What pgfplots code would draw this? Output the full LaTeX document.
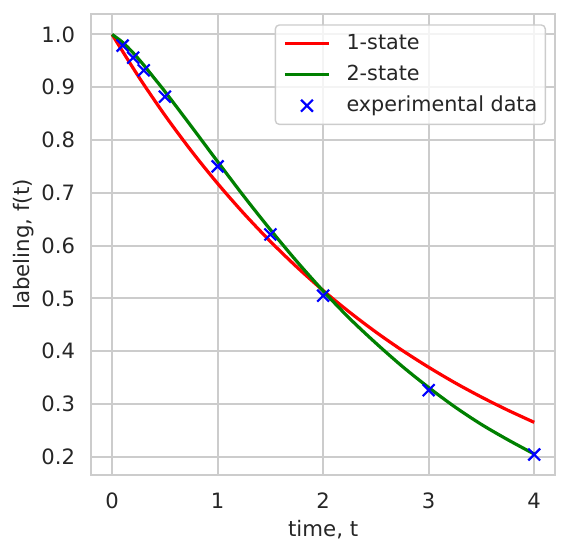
\documentclass[border=0pt]{standalone}
\usepackage{fontspec}
\setmainfont{DejaVu Sans}
\usepackage{pgfplots}
\pgfplotsset{compat=1.18}
\definecolor{txt}{RGB}{38,38,38}
\definecolor{gridc}{RGB}{204,204,204}
\definecolor{mplgreen}{RGB}{0,128,0}
\begin{document}
\begin{tikzpicture}
\begin{axis}[
  scale only axis, width=232.15bp, height=230.5bp,
  xmin=-0.2, xmax=4.2, ymin=0.1652, ymax=1.0388,
  xtick={0,1,2,3,4},
  ytick={0.2,0.3,0.4,0.5,0.6,0.7,0.8,0.9,1.0},
  yticklabel style={/pgf/number format/fixed, /pgf/number format/fixed zerofill, /pgf/number format/precision=1},
  /pgf/number format/assume math mode=true,
  tick label style={font=\fontsize{10.6}{12}\selectfont, text=txt, inner sep=0pt},
  xticklabel style={anchor=north, yshift=-8.8bp},
  yticklabel style={anchor=east, xshift=-7.8bp},
  major tick length=0pt,
  grid=major, major grid style={gridc, line width=1bp},
  axis line style={gridc, line width=1.1bp},
  xlabel={time, t}, ylabel={labeling, f(t)},
  label style={font=\fontsize{10.7}{12}\selectfont, text=txt, inner sep=0pt},
  xlabel style={at={(axis description cs:0.5,-0.1338)}, anchor=base},
  ylabel style={at={(axis description cs:-0.1322,0.5)}, anchor=base},
  legend style={at={(axis description cs:1,1)}, anchor=north east, xshift=-4.65bp, yshift=-5.15bp,
    draw=gridc, line width=0.7bp, rounded corners=2bp, fill=white, fill opacity=0.8, draw opacity=1, text opacity=1,
    font=\fontsize{10.4}{12}\selectfont, text=txt, inner xsep=4bp, inner ysep=4bp, row sep=4.8bp, column sep=8bp,
    nodes={inner sep=0pt, text height=8.5bp, text depth=2.2bp}},
  legend cell align=left,
  legend image code/.code={\draw[#1] (0bp,0bp) -- (22bp,0bp);},
]
\addplot[red, line width=1.6bp, smooth] coordinates {
 (0,1.0) (0.25,0.9204) (0.5,0.8470) (0.75,0.7796) (1,0.7175) (1.25,0.6604) (1.5,0.6078)
 (1.75,0.5594) (2,0.5148) (2.25,0.4738) (2.5,0.4360) (2.75,0.4013) (3,0.3694)
 (3.25,0.3399) (3.5,0.3129) (3.75,0.2880) (4,0.2650)};
\addlegendentry{1-state}
\addplot[mplgreen, line width=1.6bp, smooth] coordinates {
 (0,1.0) (0.1,0.985) (0.2,0.965) (0.3,0.942) (0.4,0.917) (0.5,0.892) (0.75,0.826)
 (1,0.759) (1.25,0.693) (1.5,0.630) (1.75,0.570) (2,0.514) (2.25,0.462) (2.5,0.415)
 (2.75,0.371) (3,0.331) (3.25,0.294) (3.5,0.261) (3.75,0.232) (4,0.205)};
\addlegendentry{2-state}
\addplot[blue, only marks, mark=x, mark size=4.2bp, line width=1.1bp,
  legend image code/.code={\draw[blue, mark=x, mark size=4.2bp, line width=1.1bp] plot coordinates {(11bp,0bp)};}]
  coordinates {
 (0.1,0.979) (0.2,0.956) (0.3,0.932) (0.5,0.882) (1,0.750) (1.5,0.621) (2,0.505) (3,0.326) (4,0.204)};
\addlegendentry{experimental data}
\end{axis}
\pgfresetboundingbox
\path (current axis.south west) ++(-45.5bp,-39.5bp) rectangle ++(285.5bp,277bp);
\end{tikzpicture}
\end{document}
